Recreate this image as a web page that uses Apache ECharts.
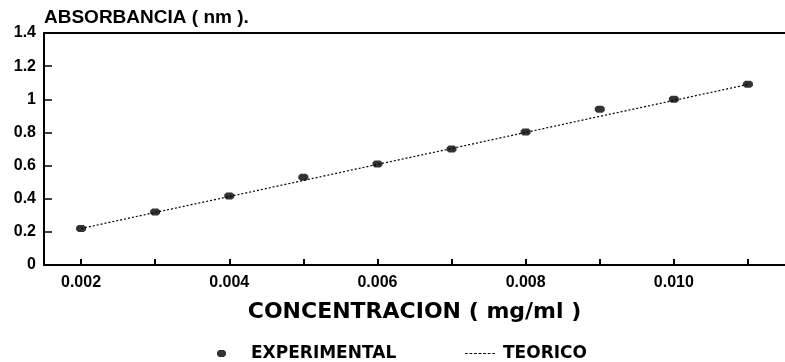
<!DOCTYPE html>
<html>
<head>
<meta charset="utf-8">
<script src="https://cdn.jsdelivr.net/npm/echarts@6/dist/echarts.min.js"></script>
<style>
  html, body { margin: 0; padding: 0; background: #fff; }
  #chart { width: 785px; height: 362px; }
</style>
</head>
<body>
<div id="chart"></div>
<script>
// concentraciones (mg/ml) y absorbancias
var concentracion = [0.002, 0.003, 0.004, 0.005, 0.006, 0.007, 0.008, 0.009, 0.010, 0.011];
var experimental  = [0.22, 0.32, 0.416, 0.53, 0.61, 0.70, 0.803, 0.94, 1.0, 1.09];
var teorico       = [0.22, 0.317, 0.413, 0.51, 0.607, 0.703, 0.80, 0.897, 0.993, 1.09];
var xLabels = [0.002, 0.004, 0.006, 0.008, 0.010];
var xTicks  = [0.002, 0.003, 0.004, 0.005, 0.006, 0.007, 0.008, 0.009, 0.010, 0.011];

var fuente = '"Liberation Sans", Arial, sans-serif';
var fuenteAncha = '"DejaVu Sans", "Liberation Sans", sans-serif';

// iconos de leyenda
var lineaPunteada = 'path://M0,0h3v1h-3zM5,0h3v1h-3zM10,0h3v1h-3zM15,0h3v1h-3zM20,0h3v1h-3zM25,0h3v1h-3zM30,0h3v1h-3z';
var mancha = 'path://M2,0h5l2,2v3l-2,2h-5l-2,-2v-3z';

function pares(ys) {
  return concentracion.map(function (x, i) { return [x, ys[i]]; });
}

var chart = echarts.init(document.getElementById('chart'));

var option = {
  backgroundColor: '#fff',
  animation: false,
  textStyle: { fontFamily: fuente, color: '#000' },
  grid: { left: 44, right: 0, top: 33, bottom: 97 },
  legend: [{
    data: [{ name: 'EXPERIMENTAL', icon: mancha }],
    left: 212, top: 340,
    itemWidth: 9, itemHeight: 7,
    itemStyle: { color: '#000' },
    textStyle: { fontSize: 17, fontWeight: 'bold', fontFamily: fuenteAncha, color: '#000', padding: [0, 0, 0, 20] }
  }, {
    data: [{ name: 'TEORICO', icon: lineaPunteada }],
    left: 460, top: 340,
    itemWidth: 30, itemHeight: 1.5,
    itemStyle: { color: '#000' },
    textStyle: { fontSize: 17, fontWeight: 'bold', fontFamily: fuenteAncha, color: '#000', padding: [0, 0, 0, 3] }
  }],
  xAxis: [{
    type: 'value',
    min: 0.0015, max: 0.0115,
    name: 'CONCENTRACION ( mg/ml )',
    nameLocation: 'middle', nameGap: 36,
    nameTextStyle: { fontSize: 22, fontWeight: 'bold', fontFamily: fuenteAncha, color: '#000' },
    axisLine: { lineStyle: { color: '#000', width: 2 } },
    axisTick: { show: true, inside: true, length: 6, customValues: xTicks, lineStyle: { color: '#000', width: 2 } },
    axisLabel: {
      customValues: xLabels, margin: 10, fontSize: 16, fontWeight: 'bold', color: '#000',
      formatter: function (v) { return v.toFixed(3); }
    },
    splitLine: { show: false }
  }, {
    // borde superior del marco
    type: 'value',
    position: 'top',
    min: 0.0015, max: 0.0115,
    axisLine: { show: true, onZero: false, lineStyle: { color: '#000', width: 2 } },
    axisTick: { show: false },
    axisLabel: { show: false },
    splitLine: { show: false }
  }],
  yAxis: {
    type: 'value',
    min: 0, max: 1.4, interval: 0.2,
    name: 'ABSORBANCIA ( nm ).',
    nameLocation: 'end', nameGap: 6,
    nameTextStyle: { fontSize: 19, fontWeight: 'bold', fontFamily: fuente, color: '#000', align: 'left', verticalAlign: 'bottom' },
    axisLine: { show: true, lineStyle: { color: '#000', width: 2 } },
    axisTick: { show: true, inside: true, length: 8, lineStyle: { color: '#000', width: 1.5 } },
    axisLabel: { margin: 8, fontSize: 16, fontWeight: 'bold', color: '#000' },
    splitLine: { show: false }
  },
  series: [{
    name: 'TEORICO',
    type: 'line',
    data: pares(teorico),
    showSymbol: false,
    symbol: 'none',
    lineStyle: { color: '#000', width: 1.2, type: [2, 2] },
    itemStyle: { color: '#000' },
    z: 2
  }, {
    name: 'EXPERIMENTAL',
    type: 'scatter',
    data: pares(experimental),
    symbol: mancha,
    symbolSize: [10, 7],
    itemStyle: { color: '#000' },
    z: 3
  }]
};

chart.setOption(option);
</script>
</body>
</html>
